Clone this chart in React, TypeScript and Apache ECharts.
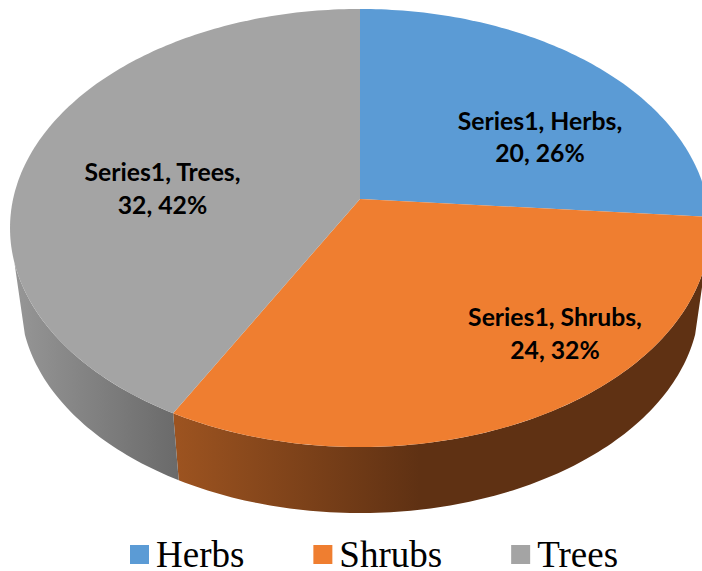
import React, { useEffect, useRef } from "react";
import * as echarts from "echarts";

const seriesLabel = "Series1";
const categories = ["Herbs", "Shrubs", "Trees"];
const values = [20, 24, 32];
const topColors = ["#5B9BD5", "#EF7E30", "#A4A4A4"];

// layout of the perspective disc
const CX = 360, CY = 199, K = -0.1324, A = 215.2, B = 346.9;
const ELLIPSE_CY = 228, SIDE_CY = 300.6, SIDE_SCALE = 0.97;
const FRONT_START = 106.6, FRONT_END = 253.4;
const LABEL_POS: Record<string, [number, number]> = {
  Herbs: [540, 136.5],
  Shrubs: [555, 333],
  Trees: [162.5, 188],
};
const sideFill = (name: string) => {
  if (name === "Trees")
    return new echarts.graphic.LinearGradient(15, 0, 178, 0, [
      { offset: 0, color: "#969696" },
      { offset: 1, color: "#6A6A6A" },
    ], true);
  return new echarts.graphic.LinearGradient(178, 0, 420, 0, [
    { offset: 0, color: "#9C5320" },
    { offset: 1, color: "#5F3113" },
  ], true);
};

const total = values.reduce((a, b) => a + b, 0);

function project(deg: number, r = 1): [number, number] {
  const t = (deg * Math.PI) / 180;
  const X = r * Math.sin(t);
  const Y = -r * Math.cos(t);
  const w = 1 + K * Y;
  return [CX + (B * X) / w, CY + (A * Y) / w];
}
const toSide = ([x, y]: [number, number]): [number, number] => [
  CX + (x - CX) * SIDE_SCALE,
  SIDE_CY + (y - ELLIPSE_CY) * SIDE_SCALE,
];

function arc(start: number, end: number): [number, number][] {
  const n = Math.max(2, Math.ceil(end - start));
  const pts: [number, number][] = [];
  for (let i = 0; i <= n; i++) pts.push(project(start + ((end - start) * i) / n));
  return pts;
}

function sliceRenderer(index: number) {
  const name = categories[index];
  const before = values.slice(0, index).reduce((a, b) => a + b, 0);
  return (_params: any, api: any) => {
    const v = api.value(0);
    const start = (before / total) * 360;
    const end = ((before + v) / total) * 360;
    const rim = arc(start, end);
    const sideStart = Math.max(start, FRONT_START);
    const sideEnd = Math.min(end, FRONT_END);
    const children: any[] = [];
    if (sideEnd > sideStart) {
      const front = arc(sideStart, sideEnd);
      children.push({
        type: "polygon",
        shape: { points: front.concat(front.map(toSide).reverse()) },
        style: { fill: sideFill(name) },
      });
    }
    const [lx, ly] = LABEL_POS[name];
    children.push(
      {
        type: "polygon",
        shape: { points: [[CX, CY], ...rim] },
        style: { fill: topColors[index] },
      },
      {
        type: "text",
        z2: 10,
        style: {
          x: lx,
          y: ly,
          text: `${seriesLabel}, ${name},\n${v}, ${Math.round((v / total) * 100)}%`,
          align: "center",
          verticalAlign: "middle",
          fill: "#000",
          fontFamily: "Lato",
          fontWeight: "bold",
          fontSize: 24.75,
          lineHeight: 32.5,
        },
      }
    );
    return { type: "group", children };
  };
}

export default function App() {
  const ref = useRef<HTMLDivElement>(null);
  useEffect(() => {
    document.body.style.margin = "0";
    const chart = echarts.init(ref.current!, undefined, { renderer: "svg" });
    chart.setOption({
      animation: false,
      legend: {
        data: categories,
        left: 130,
        top: 536,
        padding: 0,
        itemGap: 69,
        itemWidth: 19,
        itemHeight: 19,
        icon: "rect",
        textStyle: {
          fontFamily: "Liberation Serif",
          fontSize: 37,
          lineHeight: 29,
          color: "#000",
          padding: [0, 0, 0, 2],
        },
      },
      series: categories.map((name, i) => ({
        type: "custom",
        name,
        coordinateSystem: "none",
        silent: true,
        itemStyle: { color: topColors[i] },
        data: [[values[i]]],
        renderItem: sliceRenderer(i),
      })),
    });
    return () => chart.dispose();
  }, []);
  return <div ref={ref} style={{ width: 702, height: 571, position: "absolute", left: 0, top: 0 }} />;
}
